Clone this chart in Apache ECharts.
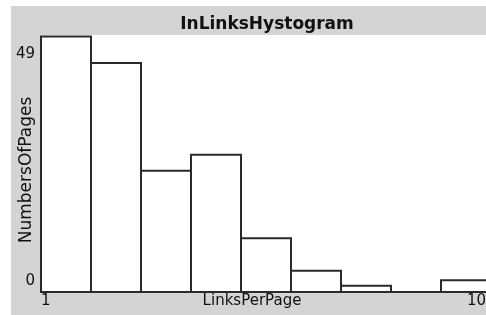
<!DOCTYPE html>
<html>
<head>
<meta charset="utf-8">
<title>InLinksHystogram</title>
<script src="https://cdn.jsdelivr.net/npm/echarts@6/dist/echarts.min.js"></script>
<style>
  html, body { margin: 0; padding: 0; background: #fff; }
  #chart { width: 486px; height: 315px; }
</style>
</head>
<body>
<div id="chart"></div>
<script>
// histogram bins: [start, end) on LinksPerPage, counts on NumbersOfPages
var binStart = [1, 2, 3, 4, 5, 6, 7, 8, 9]
var binEnd = [2, 3, 4, 5, 6, 7, 8, 9, 10]
var counts = [52.7, 47.2, 25.0, 28.3, 11.1, 4.4, 1.3, 0, 2.4]
var xTicks = [1, 10]
var yTicks = [0, 49]

var chart = echarts.init(document.getElementById('chart'))
var font = 'DejaVu Sans'

var bars = binStart.map(function (s, i) { return [s, binEnd[i], counts[i]] })

var option = {
  backgroundColor: '#fff',
  animation: false,
  graphic: [{
    type: 'rect',
    z: -10,
    shape: { x: 11, y: 6, width: 475, height: 309 },
    style: { fill: '#d4d4d4' }
  }],
  title: {
    text: 'InLinksHystogram',
    left: 262,
    top: 11,
    textAlign: 'center',
    textStyle: { fontFamily: font, fontSize: 17, fontWeight: 'bold', color: '#111' }
  },
  grid: {
    left: 41, right: -5, top: 35, bottom: 23,
    outerBoundsMode: 'none',
    containLabel: false,
    show: true, backgroundColor: '#fff', borderWidth: 0
  },
  xAxis: {
    type: 'value',
    min: 1,
    max: 10,
    name: 'LinksPerPage',
    nameLocation: 'middle',
    nameGap: 2,
    nameMoveOverlap: false,
    nameTextStyle: { fontFamily: font, fontSize: 15, color: '#111', padding: [0, 28, 0, 0] },
    axisLine: { show: false },
    axisTick: { show: false },
    splitLine: { show: false },
    axisLabel: {
      customValues: xTicks,
      margin: 2,
      alignMinLabel: 'left',
      alignMaxLabel: 'right',
      padding: [0, 5, 0, 0],
      fontFamily: font, fontSize: 15, color: '#111'
    }
  },
  yAxis: {
    type: 'value',
    min: 0,
    max: 53,
    name: 'NumbersOfPages',
    nameLocation: 'middle',
    nameGap: 6,
    nameMoveOverlap: false,
    nameTextStyle: { fontFamily: font, fontSize: 17, color: '#111', padding: [0, 13, 0, 0] },
    axisLine: { show: false },
    axisTick: { show: false },
    splitLine: { show: false },
    axisLabel: {
      customValues: yTicks,
      margin: 6,
      fontFamily: font, fontSize: 15, color: '#111',
      formatter: function (v) { return v === 0 ? '{lo|0}' : '{n|' + v + '}' },
      rich: {
        lo: { fontFamily: font, fontSize: 15, color: '#111', padding: [0, 0, 22, 0] },
        n: { fontFamily: font, fontSize: 15, color: '#111' }
      }
    }
  },
  series: [{
    type: 'custom',
    data: bars,
    encode: { x: [0, 1], y: 2 },
    renderItem: function (params, api) {
      var p0 = api.coord([api.value(0), api.value(2)])
      var p1 = api.coord([api.value(1), 0])
      return {
        type: 'rect',
        shape: { x: p0[0], y: p0[1], width: p1[0] - p0[0], height: p1[1] - p0[1] },
        style: { fill: '#fff', stroke: '#2a2a2a', lineWidth: 2 }
      }
    }
  }]
}

chart.setOption(option)
</script>
</body>
</html>
